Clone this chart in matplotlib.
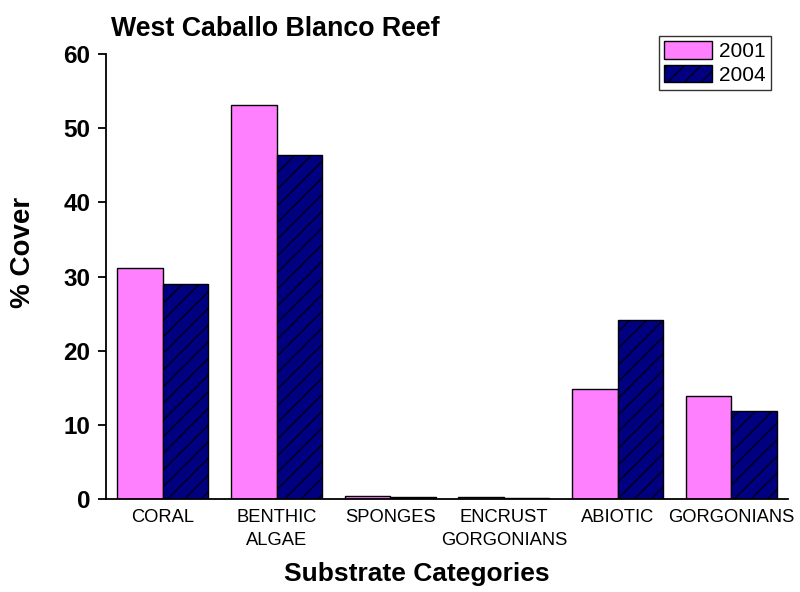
import matplotlib
matplotlib.use("Agg")
import matplotlib.pyplot as plt
import numpy as np

categories = ["CORAL", "BENTHIC\nALGAE", "SPONGES", "ENCRUST\nGORGONIANS", "ABIOTIC", "GORGONIANS"]
cover_2001 = [31.1, 53.1, 0.4, 0.3, 14.8, 13.9]
cover_2004 = [29.0, 46.4, 0.25, 0.1, 24.1, 11.9]
series_labels = ["2001", "2004"]
yticks = [0, 10, 20, 30, 40, 50, 60]

plt.rcParams['font.family'] = ['Liberation Sans', 'DejaVu Sans']
plt.rcParams['hatch.linewidth'] = 0.8
plt.rcParams['hatch.color'] = 'black'

W, H = 800, 592
fig = plt.figure(figsize=(W / 100, H / 100), dpi=100)
ax = fig.add_axes([106 / W, 1 - 499 / H, (788 - 106) / W, (499 - 54) / H])

x = np.arange(len(categories))
bw = 0.4
ax.bar(x - bw / 2, cover_2001, width=bw, color='#FF80FF', edgecolor='black',
       linewidth=1.0, label=series_labels[0])
ax.bar(x + bw / 2, cover_2004, width=bw, color='#000080', edgecolor='black',
       linewidth=1.0, hatch='//', label=series_labels[1])

ax.set_xlim(-0.5, len(categories) - 0.5)
ax.set_ylim(0, 60)
ax.set_yticks(yticks)
ax.set_yticklabels([str(t) for t in yticks], fontsize=17.5, fontweight='bold')
ax.set_xticks(x)
ax.set_xticklabels(categories, fontsize=13.2, linespacing=1.45)
ax.tick_params(axis='x', length=0, pad=7)
ax.tick_params(axis='y', direction='out', length=5.8, width=1.3, pad=5.5)

for s in ['top', 'right']:
    ax.spines[s].set_visible(False)
for s in ['left', 'bottom']:
    ax.spines[s].set_linewidth(1.3)

leg = ax.legend(loc='upper right', bbox_to_anchor=(770.7 / W, 1 - 36 / H),
                bbox_transform=fig.transFigure, borderaxespad=0,
                fontsize=15, frameon=True, fancybox=False, shadow=False,
                handlelength=2.3, handleheight=0.9, handletextpad=0.33,
                labelspacing=0.2, borderpad=0.25)
leg.get_frame().set_edgecolor('black')
leg.get_frame().set_linewidth(1.0)

fig.text(110.7 / W, 1 - 36 / H, "West Caballo Blanco Reef", fontsize=19.3,
         fontweight='bold', ha='left', va='baseline')
fig.text(416.5 / W, 1 - 580.7 / H, "Substrate Categories", fontsize=19,
         fontweight='bold', ha='center', va='baseline')
fig.text(23 / W, 1 - 252 / H, "% Cover", fontsize=20, fontweight='bold',
         rotation=90, ha='center', va='center')

fig.savefig("out.png", dpi=100)
